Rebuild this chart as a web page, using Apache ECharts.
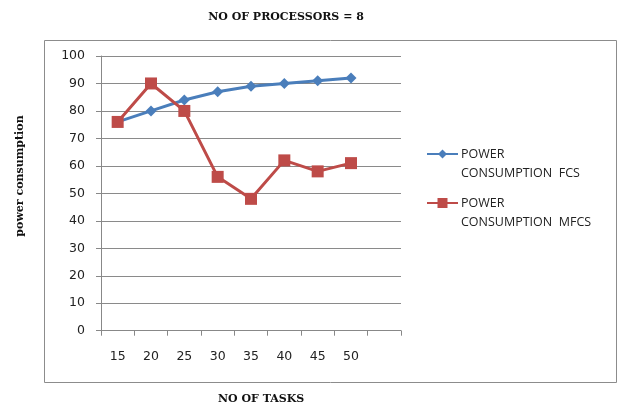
<!DOCTYPE html>
<html><head><meta charset="utf-8">
<script src="https://cdn.jsdelivr.net/npm/echarts@6/dist/echarts.min.js"></script>
<style>html,body{margin:0;padding:0;background:#fff}#c{width:618px;height:408px;position:relative}</style>
</head><body><div id="c"></div>
<script>
var categories = ['15','20','25','30','35','40','45','50',''];
var fcs = [76, 80, 84, 87, 89, 90, 91, 92];
var mfcs = [76, 90, 80, 56, 48, 62, 58, 61];
var yTicks = [0,10,20,30,40,50,60,70,80,90,100];
var seriesNames = ['POWER CONSUMPTION FCS','POWER CONSUMPTION MFCS'];

var blue = '#4a7ebb', red = '#be4b48';
var chart = echarts.init(document.getElementById('c'), null, {renderer:'canvas'});
var lblFont = '"DejaVu Sans", "Open Sans", sans-serif';
var legFont = '12.5px "Open Sans", "DejaVu Sans", sans-serif';
chart.setOption({
  animation:false,
  backgroundColor:'#fff',
  title:{text:'NO OF PROCESSORS = 8', left:281, top:7, textAlign:'center',
    textStyle:{fontFamily:'"DejaVu Serif","Liberation Serif",serif', fontWeight:'bold', fontSize:11, color:'#111'}},
  graphic:[
    {type:'rect', shape:{x:44.5,y:40.5,width:572,height:342}, style:{fill:'none', stroke:'#8c8c8c', lineWidth:1}, z:-1},
    {type:'text', left:218, top:394, style:{text:'NO OF TASKS', font:'bold 11px "DejaVu Serif", serif', fill:'#111'}},
    {type:'text', x:20, y:176, rotation:Math.PI/2, style:{text:'power consumption', font:'bold 11px "DejaVu Serif", serif', fill:'#111', align:'center', verticalAlign:'middle'}},
    {type:'line', shape:{x1:427,y1:154,x2:458,y2:154}, style:{stroke:blue, lineWidth:2}},
    {type:'polygon', shape:{points:[[442.5,149.5],[447,154],[442.5,158.5],[438,154]]}, style:{fill:blue}},
    {type:'text', x:461, y:154, style:{text:'POWER', font:legFont, fill:'#222', verticalAlign:'middle'}},
    {type:'text', x:461, y:173, style:{text:'CONSUMPTION  FCS', font:legFont, fill:'#222', verticalAlign:'middle'}},
    {type:'line', shape:{x1:427,y1:203,x2:458,y2:203}, style:{stroke:red, lineWidth:2}},
    {type:'rect', shape:{x:437.5,y:198,width:10,height:10}, style:{fill:red}},
    {type:'text', x:461, y:203, style:{text:'POWER', font:legFont, fill:'#222', verticalAlign:'middle'}},
    {type:'text', x:461, y:222, style:{text:'CONSUMPTION  MFCS', font:legFont, fill:'#222', verticalAlign:'middle'}}
  ],
  grid:{left:101, right:217, top:56, bottom:77.3},
  xAxis:{type:'category', data:categories, boundaryGap:true,
    axisLine:{lineStyle:{color:'#888', width:1}},
    axisTick:{show:true, alignWithLabel:false, length:5, lineStyle:{color:'#888'}},
    axisLabel:{margin:20, fontFamily:lblFont, fontSize:12.5, color:'#222', interval:0},
    splitLine:{show:false}},
  yAxis:{type:'value', min:0, max:100, interval:10,
    axisLine:{show:true, lineStyle:{color:'#888'}},
    axisTick:{show:true, length:5, inside:false, lineStyle:{color:'#888'}},
    axisLabel:{margin:16, fontFamily:lblFont, fontSize:12.5, color:'#222',
      formatter:function(v){return yTicks.indexOf(v)>=0?String(v):'';}},
    splitLine:{lineStyle:{color:'#8a8a8a', width:1}}},
  series:[
    {name:seriesNames[0], type:'line', data:fcs, symbol:'diamond', symbolSize:11,
      lineStyle:{color:blue, width:3}, itemStyle:{color:blue}},
    {name:seriesNames[1], type:'line', data:mfcs, symbol:'rect', symbolSize:12,
      lineStyle:{color:red, width:3}, itemStyle:{color:red}}
  ]
});
</script></body></html>
